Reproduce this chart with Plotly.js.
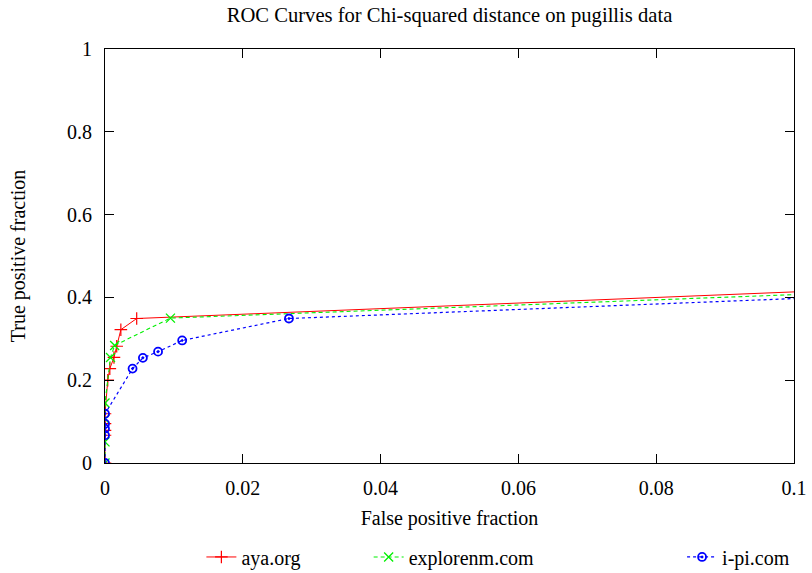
<!DOCTYPE html>
<html>
<head>
<meta charset="utf-8">
<script src="https://cdn.plot.ly/plotly-3.0.1.min.js"></script>
<style>html,body{margin:0;padding:0;background:#fff;}#chart{width:812px;height:573px;}</style>
</head>
<body>
<div id="chart"></div>
<script>
// Series names
const seriesNames = ["aya.org", "explorenm.com", "i-pi.com"];

// aya.org
const ayaX = [0, 0, 0, 0, 0, 0.0004, 0.0007, 0.0013, 0.0017, 0.0023, 0.0046, 0.15];
const ayaY = [0, 0.067, 0.079, 0.095, 0.119, 0.200, 0.228, 0.255, 0.282, 0.322, 0.349, 0.447];

// explorenm.com
const expX = [0, 0, 0, 0, 0.0008, 0.0014, 0.0095, 0.15];
const expY = [0, 0.051, 0.106, 0.145, 0.255, 0.284, 0.350, 0.438];

// i-pi.com
const ipiX = [0, 0, 0, 0, 0, 0.0040, 0.0055, 0.0077, 0.0112, 0.0267, 0.15];
const ipiY = [0, 0.067, 0.083, 0.095, 0.119, 0.228, 0.254, 0.269, 0.296, 0.349, 0.430];

// Axis ticks
const xTicks = [0, 0.02, 0.04, 0.06, 0.08, 0.1];
const xTickText = ["0", "0.02", "0.04", "0.06", "0.08", "0.1"];
const yTicks = [0, 0.2, 0.4, 0.6, 0.8, 1];
const yTickText = ["0", "0.2", "0.4", "0.6", "0.8", "1"];

const FONT = '"Liberation Serif", "Times New Roman", serif';
const FS = 20;
const fnt = (s) => ({family: FONT, size: s, color: "#000"});

const traces = [
  {x: ayaX, y: ayaY, name: seriesNames[0], type: "scatter", mode: "lines+markers", legend: "legend",
   line: {color: "#ff0000", width: 1}, marker: {symbol: "cross-thin-open", size: 9, color: "#ff0000", line: {color: "#ff0000", width: 1.2}}},
  {x: expX, y: expY, name: seriesNames[1], type: "scatter", mode: "lines+markers", legend: "legend2",
   line: {color: "#00f000", width: 1.1, dash: "4px,3px"}, marker: {symbol: "x-thin-open", size: 9, color: "#00f000", line: {color: "#00f000", width: 1.3}}},
  {x: ipiX, y: ipiY, name: seriesNames[2], type: "scatter", mode: "lines+markers", legend: "legend3",
   line: {color: "#0000ff", width: 1.2, dash: "dot"}, marker: {symbol: "circle-open-dot", size: 8, color: "#0000ff", line: {color: "#0000ff", width: 1.8}}}
];

const legendBase = (x) => ({orientation: "h", x: x, xref: "container", xanchor: "left",
                            y: 0.028, yref: "container", yanchor: "middle",
                            font: fnt(FS), bgcolor: "rgba(0,0,0,0)"});

const layout = {
  width: 812, height: 573,
  margin: {l: 105, r: 18, t: 49, b: 110},
  paper_bgcolor: "#fff", plot_bgcolor: "#fff",
  font: fnt(FS),
  title: {text: "ROC Curves for Chi-squared distance on pugillis data", font: fnt(20.6),
          x: 0.5, xref: "paper", y: 0.974, yanchor: "middle"},
  xaxis: {range: [0, 0.1], tickvals: xTicks, ticktext: xTickText, tickfont: fnt(FS),
          ticks: "inside", ticklen: 9, tickcolor: "#000",
          showline: true, linecolor: "#000", linewidth: 1, mirror: "ticks", showgrid: false, zeroline: false,
          ticklabelstandoff: 7,
          title: {text: "False positive fraction", font: fnt(FS), standoff: 12}},
  yaxis: {range: [0, 1], tickvals: yTicks, ticktext: yTickText, tickfont: fnt(FS),
          ticks: "inside", ticklen: 9, tickcolor: "#000",
          showline: true, linecolor: "#000", linewidth: 1, mirror: "ticks", showgrid: false, zeroline: false,
          ticklabelstandoff: 8,
          title: {text: "True positive fraction", font: fnt(FS), standoff: 36}},
  showlegend: true,
  legend: legendBase(0.248),
  legend2: legendBase(0.454),
  legend3: legendBase(0.840)
};

Plotly.newPlot("chart", traces, layout, {displayModeBar: false, staticPlot: true});
</script>
</body>
</html>
